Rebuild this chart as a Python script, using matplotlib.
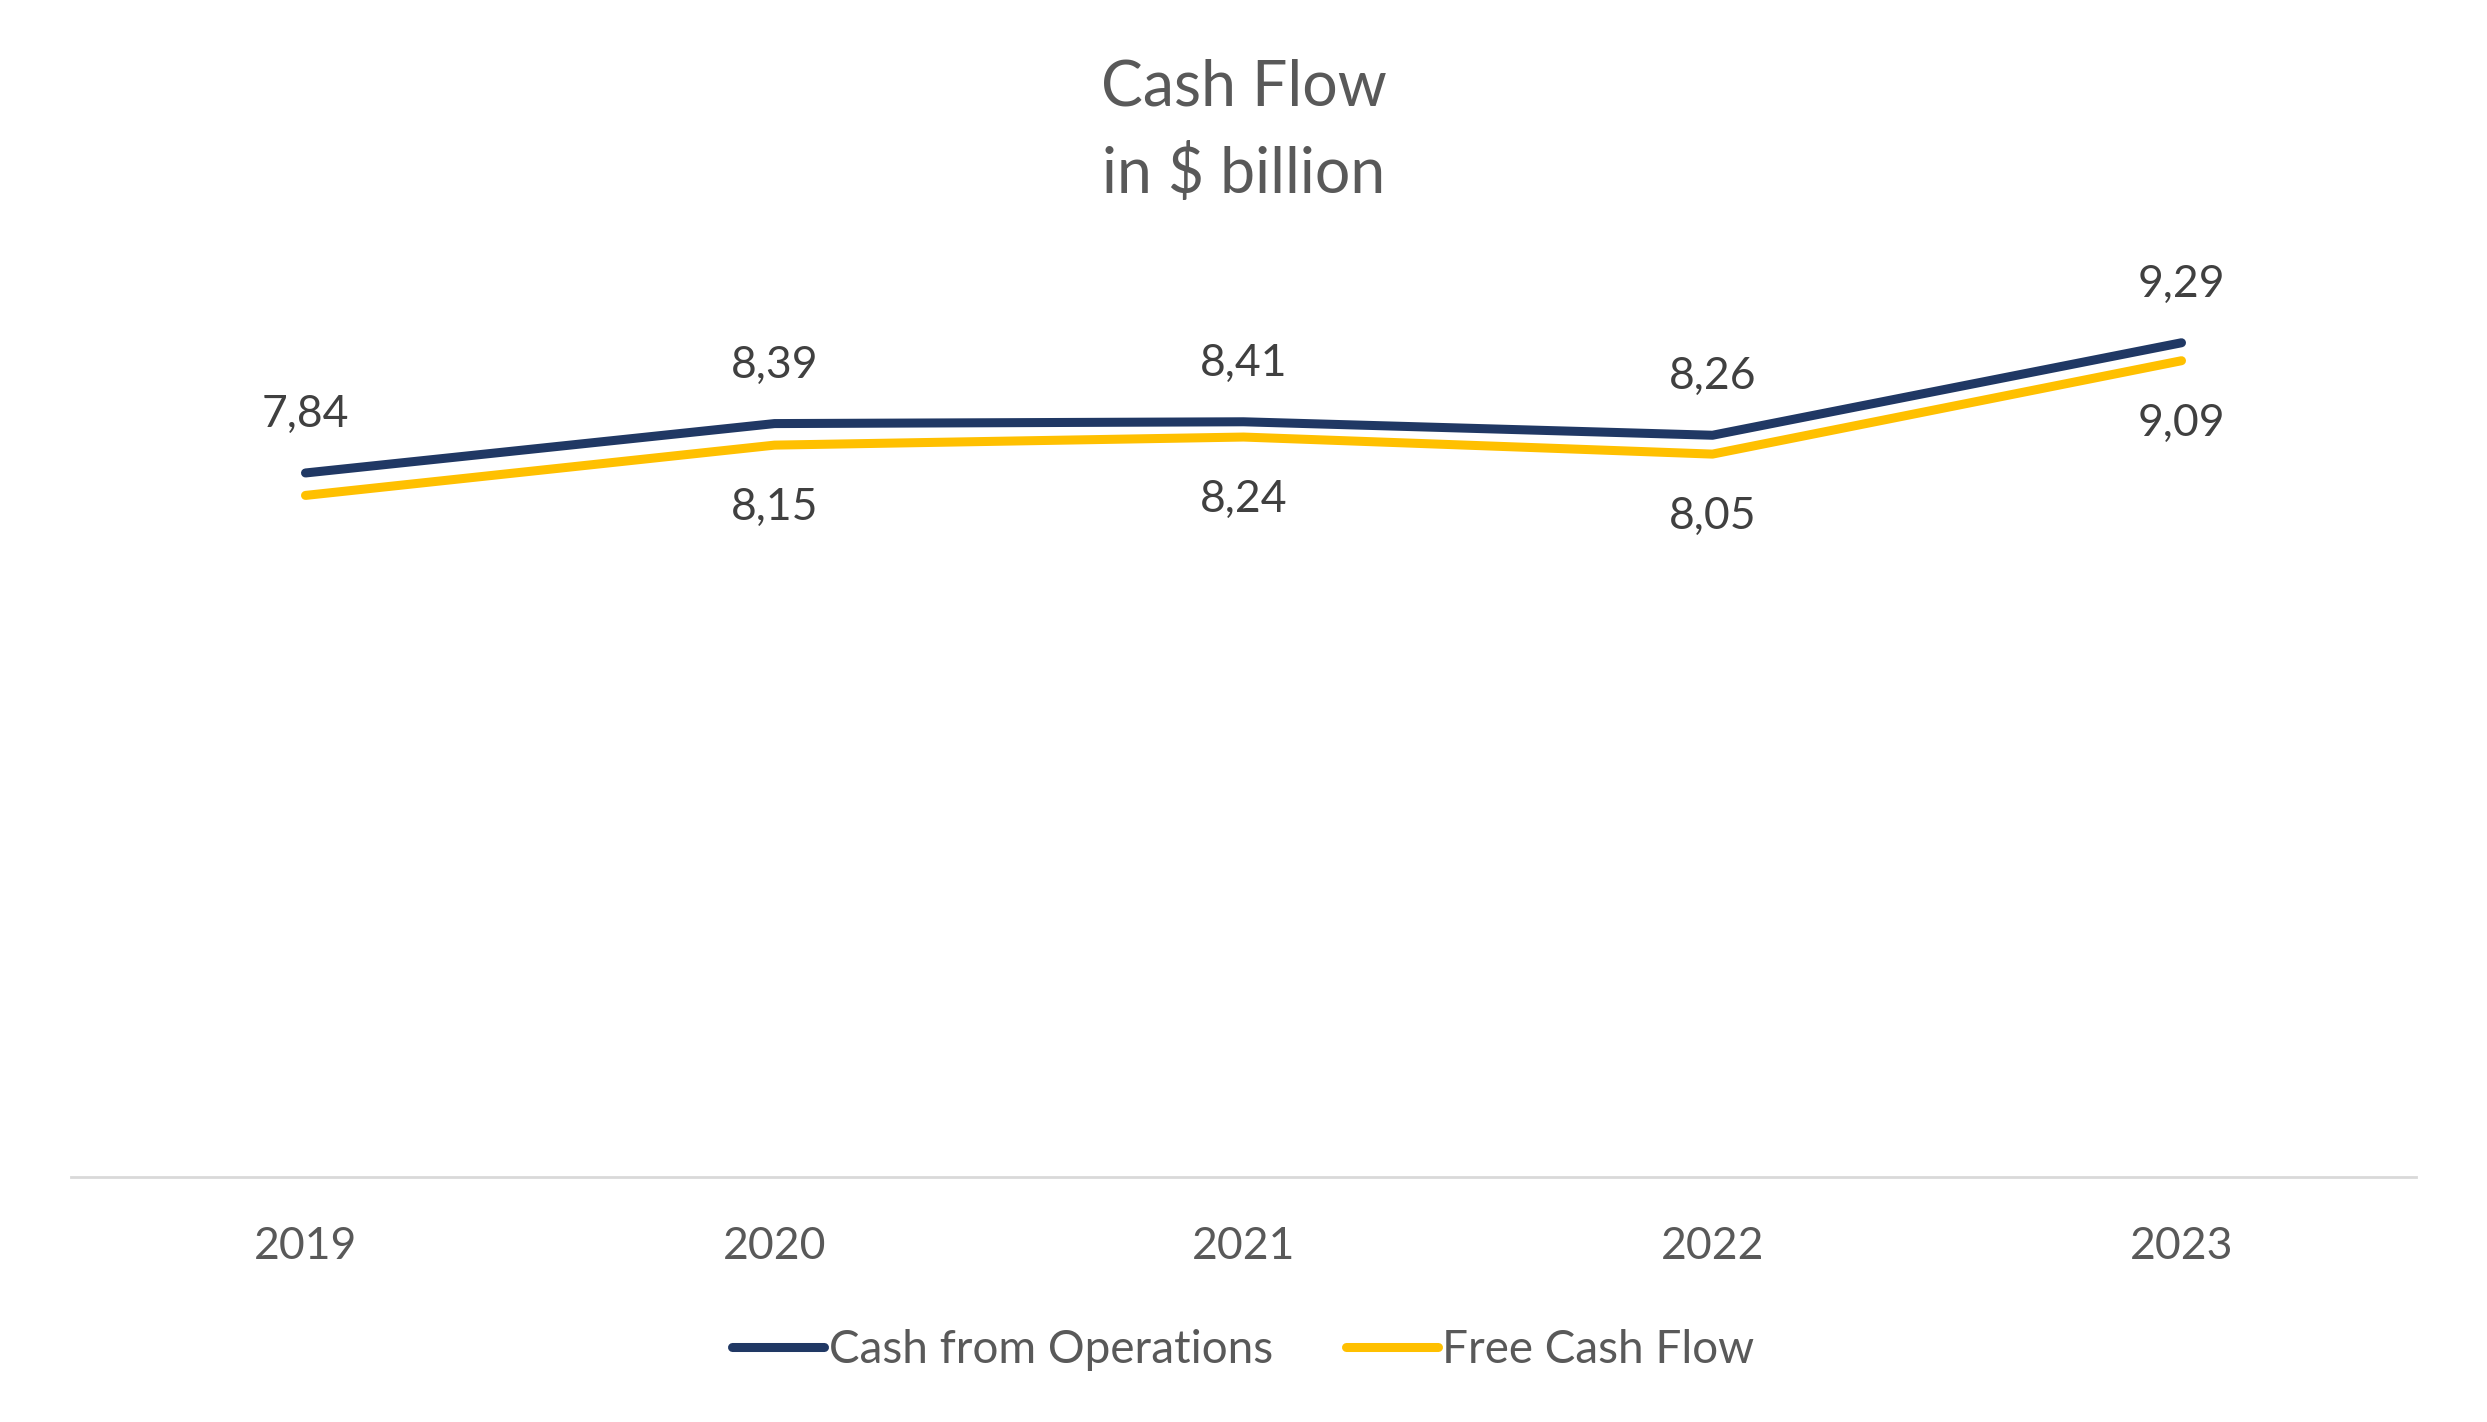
import matplotlib.pyplot as plt

years = ["2019", "2020", "2021", "2022", "2023"]
cash_ops = [7.84, 8.39, 8.41, 8.26, 9.29]
free_cf = [7.59, 8.15, 8.24, 8.05, 9.09]
# 2019 free cash flow has no label in the original
free_cf_labels = [None, "8,15", "8,24", "8,05", "9,09"]

navy = "#203864"
gold = "#FFC000"

plt.rcParams["font.family"] = ["Lato", "DejaVu Sans"]

fig = plt.figure(figsize=(24.87, 14.22), dpi=100)
ax = fig.add_axes([71 / 2487, 1 - 1177 / 1422, 2345 / 2487, 898 / 1422])

x = list(range(len(years)))
ax.plot(x, cash_ops, color=navy, lw=6.5, solid_capstyle="round",
        solid_joinstyle="round", label="Cash from Operations")
ax.plot(x, free_cf, color=gold, lw=6.5, solid_capstyle="round",
        solid_joinstyle="round", label="Free Cash Flow")

for xi, v in zip(x, cash_ops):
    ax.annotate(f"{v:.2f}".replace(".", ","), (xi, v), xytext=(0, 42),
                textcoords="offset points", ha="center", va="center",
                fontsize=32, color="#404040")
for xi, v, lab in zip(x, free_cf, free_cf_labels):
    if lab is None:
        continue
    ax.annotate(lab, (xi, v), xytext=(0, -45),
                textcoords="offset points", ha="center", va="center",
                fontsize=32, color="#404040")

ax.set_xlim(-0.5, len(years) - 0.5)
ax.set_ylim(0, 10)
ax.set_xticks(x)
ax.set_xticklabels(years, fontsize=32, color="#595959")
ax.tick_params(axis="x", length=0, pad=35)
ax.set_yticks([])
for s in ["left", "right", "top"]:
    ax.spines[s].set_visible(False)
ax.spines["bottom"].set_color("#D9D9D9")
ax.spines["bottom"].set_linewidth(2)

fig.text(0.5, 1 - 88 / 1422, "Cash Flow", ha="center", va="center",
         fontsize=45, color="#595959")
fig.text(0.5, 1 - 174 / 1422, "in $ billion", ha="center", va="center",
         fontsize=45, color="#595959")

fig.legend(loc="center", bbox_to_anchor=(0.5, 1 - 1350 / 1422), ncol=2,
           frameon=False, fontsize=33, handlelength=2.0, handletextpad=0.1,
           columnspacing=1.6, labelcolor="#595959")

plt.savefig("out.png", dpi=100)
